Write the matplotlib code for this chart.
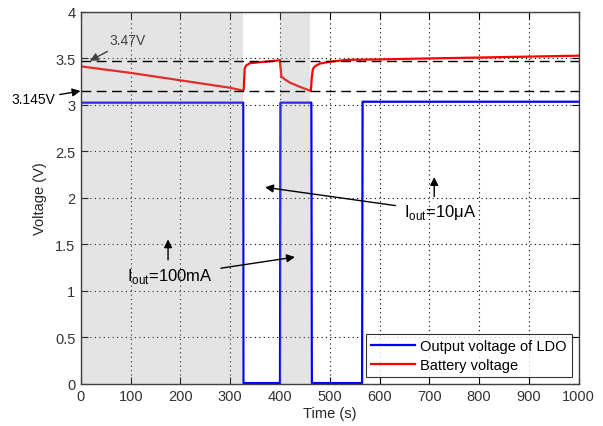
import matplotlib
matplotlib.use("Agg")
import matplotlib.pyplot as plt

plt.rcParams['font.family'] = ['Liberation Sans', 'DejaVu Sans']

# Time axis (s) and measured signals
ldo_t = [0, 100, 200, 300, 326, 326.5, 400, 401, 463, 464, 565, 566, 700, 850, 1000]
ldo_v = [3.02, 3.02, 3.02, 3.02, 3.02, 0.005, 0.005, 3.02, 3.02, 0.005, 0.005, 3.03, 3.03, 3.03, 3.03]

bat_t = [0, 50, 100, 150, 200, 250, 300, 325, 327, 329, 332, 340, 360, 380, 398,
         400, 401, 403, 410, 420, 440, 460, 462, 464, 466, 470, 480, 500, 535,
         600, 695, 800, 900, 1000]
bat_v = [3.41, 3.375, 3.34, 3.30, 3.26, 3.22, 3.18, 3.15, 3.16, 3.39, 3.42, 3.445,
         3.455, 3.465, 3.475, 3.48, 3.40, 3.30, 3.27, 3.235, 3.19, 3.15, 3.145,
         3.30, 3.38, 3.41, 3.44, 3.46, 3.48, 3.485, 3.495, 3.505, 3.515, 3.525]

# High-load intervals (s)
load_spans = [(0, 326), (401, 460)]

# Reference levels (V)
ref_high = 3.47
ref_low = 3.145

fig = plt.figure(figsize=(6.03, 4.27), dpi=100)
ax = fig.add_axes([0.1343, 0.0995, 0.8251, 0.8712])

ax.plot(ldo_t, ldo_v, color='#0000ff', lw=1.6, label='Output voltage of LDO', zorder=3)
ax.plot(bat_t, bat_v, color='#ff0000', lw=1.6, label='Battery voltage', zorder=3)

for a, b in load_spans:
    ax.axvspan(a, b, facecolor='#a0a0a0', alpha=0.28, lw=0, zorder=4)

ax.axhline(ref_high, color='black', ls=(0, (7, 4)), lw=1.0, zorder=5)
ax.axhline(ref_low, color='black', ls=(0, (7, 4)), lw=1.0, zorder=5)

ax.set_xlim(0, 1000)
ax.set_ylim(0, 4)
ax.set_xticks(range(0, 1001, 100))
ax.set_yticks([0, 0.5, 1, 1.5, 2, 2.5, 3, 3.5, 4])
ax.set_yticklabels(['0', '0.5', '1', '1.5', '2', '2.5', '3', '3.5', '4'])
ax.grid(True, color='black', ls=(0, (1, 3)), lw=0.8)
ax.set_axisbelow(True)
ax.tick_params(direction='in', top=True, right=True, length=5, width=0.8,
               labelsize=10.5, labelcolor='#333333', pad=4)
for s in ax.spines.values():
    s.set_color('#404040')
    s.set_linewidth(1.0)
    s.set_zorder(6)

ax.set_xlabel('Time (s)', fontsize=10.5, color='#262626', labelpad=2)
ax.set_ylabel('Voltage (V)', fontsize=10.5, color='#262626', labelpad=6)

leg = ax.legend(loc='lower right', fontsize=10.5, handlelength=3.0, frameon=True,
                fancybox=False, borderaxespad=0.45, labelspacing=0.35,
                handletextpad=0.4, borderpad=0.35)
leg.get_frame().set_edgecolor('black')
leg.get_frame().set_linewidth(0.8)
leg.set_zorder(7)

arrow = dict(arrowstyle='-|>', color='black', lw=1.0, mutation_scale=12)

ax.annotate('3.47V', xy=(18, ref_high), xytext=(58, 3.69), fontsize=10,
            color='#404040', va='center', ha='left',
            arrowprops=dict(arrowstyle='-|>', color='#404040', lw=1.0,
                            mutation_scale=12, shrinkA=2, shrinkB=0),
            zorder=8)
ax.annotate('3.145V', xy=(-1, ref_low), xytext=(-51, 3.06), fontsize=10,
            color='black', va='center', ha='right', annotation_clip=False,
            arrowprops=dict(arrow, shrinkA=1, shrinkB=0), zorder=8)

ax.annotate(r'I$_{\mathregular{out}}$=100mA', xy=(430, 1.36), xytext=(92, 1.157),
            fontsize=12, color='black', va='center', ha='left',
            arrowprops=dict(arrow, shrinkA=4, shrinkB=0), zorder=8)
ax.annotate('', xy=(175, 1.55), xytext=(175, 1.33), arrowprops=dict(arrow, shrinkA=0, shrinkB=0),
            zorder=8)

ax.annotate(r'I$_{\mathregular{out}}$=10μA', xy=(370, 2.11), xytext=(649, 1.846),
            fontsize=12, color='black', va='center', ha='left',
            arrowprops=dict(arrow, shrinkA=4, shrinkB=0), zorder=8)
ax.annotate('', xy=(710, 2.22), xytext=(710, 2.01), arrowprops=dict(arrow, shrinkA=0, shrinkB=0),
            zorder=8)

fig.savefig('out.png', dpi=100)
